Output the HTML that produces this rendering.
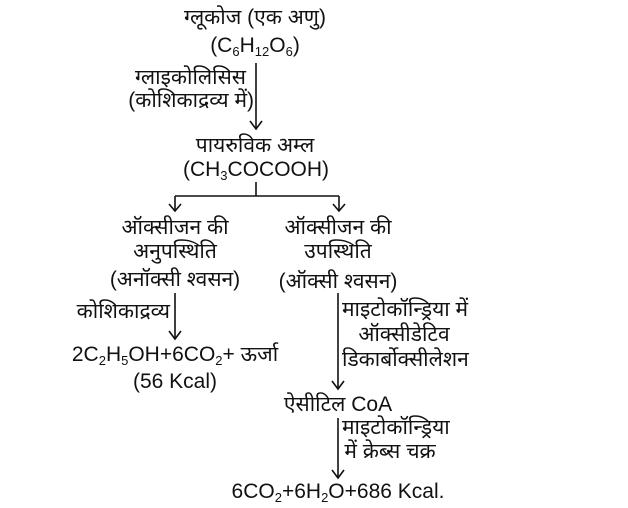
<!DOCTYPE html>
<html><head><meta charset="utf-8"><style>
html,body{margin:0;padding:0;background:#fff;}
#c{position:relative;width:628px;height:508px;overflow:hidden;font-family:"Liberation Sans","Noto Sans CJK SC",sans-serif;font-size:21px;color:#111;}
.t{position:absolute;white-space:nowrap;line-height:24px;}
.m{transform:translateX(-50%);}
.r{transform:translateX(-100%);}
sub{font-size:13px;vertical-align:-4px;line-height:0;}
svg{position:absolute;left:0;top:0;}
</style></head><body><div id="c">
<svg width="628" height="508" stroke="#111" stroke-width="1.6" fill="none">
<line x1="256" y1="63" x2="256" y2="129"/><polyline points="250,121 256,129 262,121"/>
<line x1="256" y1="182" x2="256" y2="196"/>
<line x1="175" y1="196" x2="339" y2="196"/>
<line x1="175" y1="196" x2="175" y2="211"/><polyline points="169,204 175,211 181,204"/>
<line x1="339" y1="196" x2="339" y2="211"/><polyline points="333,204 339,211 345,204"/>
<line x1="175" y1="293" x2="175" y2="339"/><polyline points="169,331 175,339 181,331"/>
<line x1="338" y1="293" x2="338" y2="389"/><polyline points="332,381 338,389 344,381"/>
<line x1="338" y1="418" x2="338" y2="478"/><polyline points="332,470 338,478 344,470"/>
</svg>
<div class="t m" style="left:255px;top:6px">ग्लूकोज (एक अणु)</div>
<div class="t m" style="left:255px;top:34px">(C<sub>6</sub>H<sub>12</sub>O<sub>6</sub>)</div>
<div class="t r" style="left:246px;top:66px">ग्लाइकोलिसिस</div>
<div class="t r" style="left:254px;top:89px">(कोशिकाद्रव्य में)</div>
<div class="t m" style="left:255px;top:134px">पायरुविक अम्ल</div>
<div class="t m" style="left:256px;top:158px">(CH<sub>3</sub>COCOOH)</div>
<div class="t m" style="left:175px;top:216px">ऑक्सीजन की</div>
<div class="t m" style="left:175px;top:240px">अनुपस्थिति</div>
<div class="t m" style="left:175px;top:268px">(अनॉक्सी श्वसन)</div>
<div class="t r" style="left:170px;top:300px">कोशिकाद्रव्य</div>
<div class="t m" style="left:175px;top:343px">2C<sub>2</sub>H<sub>5</sub>OH+6CO<sub>2</sub>+ ऊर्जा</div>
<div class="t m" style="left:175px;top:370px">(56 Kcal)</div>
<div class="t m" style="left:338px;top:216px">ऑक्सीजन की</div>
<div class="t m" style="left:338px;top:240px">उपस्थिति</div>
<div class="t m" style="left:338px;top:270px">(ऑक्सी श्वसन)</div>
<div class="t" style="left:342px;top:298px">माइटोकॉन्ड्रिया में</div>
<div class="t m" style="left:404px;top:323px">ऑक्सीडेटिव</div>
<div class="t" style="left:342px;top:348px">डिकार्बोक्सीलेशन</div>
<div class="t m" style="left:338px;top:393px">ऐसीटिल CoA</div>
<div class="t" style="left:342px;top:416px">माइटोकॉन्ड्रिया</div>
<div class="t m" style="left:390px;top:440px">में क्रेब्स चक्र</div>
<div class="t m" style="left:338px;top:480px">6CO<sub>2</sub>+6H<sub>2</sub>O+686 Kcal.</div>
</div></body></html>
